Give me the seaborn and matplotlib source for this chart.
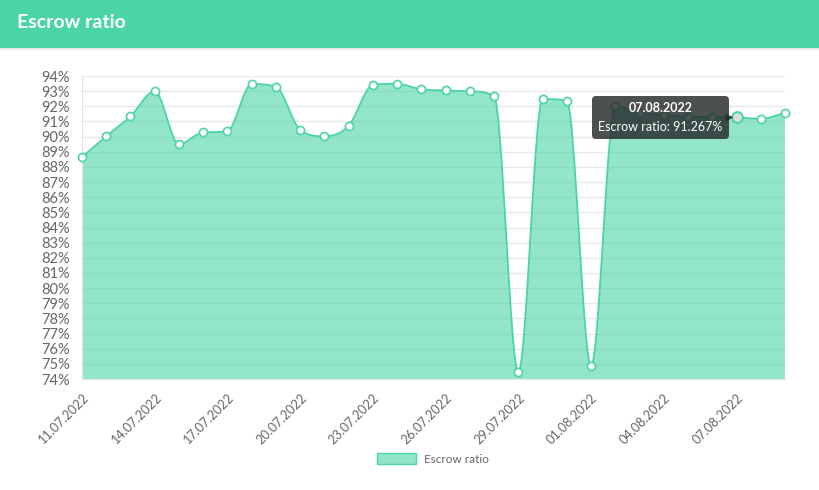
import matplotlib
matplotlib.use("Agg")
import matplotlib.pyplot as plt
import matplotlib.dates as mdates
import matplotlib.transforms as mtransforms
from matplotlib.path import Path
from matplotlib.patches import PathPatch, Patch, Rectangle
from matplotlib.lines import Line2D
from matplotlib.offsetbox import TextArea, VPacker, AnnotationBbox
import seaborn as sns
import pandas as pd
import numpy as np

# data
dates = pd.date_range("2022-07-11", "2022-08-09", freq="D")
escrow_ratio = [88.65, 90.02, 91.34, 92.99, 89.49, 90.28, 90.37, 93.47, 93.29, 90.44,
                90.02, 90.72, 93.41, 93.49, 93.12, 93.05, 92.99, 92.66, 74.44, 92.48,
                92.37, 74.88, 92.0, 91.56, 91.45, 91.3, 91.3, 91.267, 91.18, 91.56]
y_ticks = list(range(74, 95))
tooltip_date = "07.08.2022"
tooltip_label = "Escrow ratio: 91.267%"

df = pd.DataFrame({"date": dates, "ratio": escrow_ratio})

GREEN = "#4bd4a7"
FILL = (75 / 255, 212 / 255, 167 / 255, 0.6)
GREY = "#666666"
TIP = (0.15, 0.16, 0.17, 0.82)

sns.set_style("white")
plt.rcParams["font.family"] = ["Lato", "DejaVu Sans"]

fig = plt.figure(figsize=(8.2, 4.9), dpi=100)
ax = fig.add_axes([82 / 820, 1 - 379 / 490, 703 / 820, 303 / 490])

# header band
fig.patches.append(Rectangle((0, 1 - 48 / 490), 1, 48 / 490, transform=fig.transFigure,
                             facecolor=GREEN, edgecolor="none", zorder=0))
fig.add_artist(Line2D([0, 1], [1 - 49.5 / 490] * 2, transform=fig.transFigure,
                      color="#dfe7e4", lw=1.2))
fig.text(17 / 820, 1 - 22 / 490, "Escrow ratio", color="white", fontsize=14,
         fontweight="bold", va="center", ha="left")

# monotone cubic curve (same idea as chart.js cubicInterpolationMode 'monotone')
x = mdates.date2num(df["date"])
y = df["ratio"].to_numpy()
n = len(x)
delta = np.diff(y) / np.diff(x)
m = np.zeros(n)
m[0], m[-1] = delta[0], delta[-1]
for i in range(1, n - 1):
    if np.sign(delta[i - 1]) != np.sign(delta[i]):
        m[i] = 0
    else:
        m[i] = (delta[i - 1] + delta[i]) / 2
for i in range(n - 1):
    if abs(delta[i]) < 1e-9:
        m[i] = m[i + 1] = 0
        continue
    a, b = m[i] / delta[i], m[i + 1] / delta[i]
    sq = a * a + b * b
    if sq <= 9:
        continue
    tau = 3 / np.sqrt(sq)
    m[i] = a * tau * delta[i]
    m[i + 1] = b * tau * delta[i]

verts = [(x[0], y[0])]
codes = [Path.MOVETO]
for i in range(n - 1):
    dx = (x[i + 1] - x[i]) / 3
    c1 = (x[i] + dx, np.clip(y[i] + m[i] * dx, 74, 94))
    c2 = (x[i + 1] - dx, np.clip(y[i + 1] - m[i + 1] * dx, 74, 94))
    verts += [c1, c2, (x[i + 1], y[i + 1])]
    codes += [Path.CURVE4] * 3

line_path = Path(verts, codes)
fill_path = Path(verts + [(x[-1], 74), (x[0], 74), (x[0], y[0])],
                 codes + [Path.LINETO, Path.LINETO, Path.CLOSEPOLY])
ax.add_patch(PathPatch(fill_path, facecolor=FILL, edgecolor="none", zorder=2))
ax.add_patch(PathPatch(line_path, facecolor="none", edgecolor=GREEN, lw=1.3, zorder=3))

sns.scatterplot(data=df, x="date", y="ratio", ax=ax, s=34, color="white",
                edgecolor=GREEN, linewidth=1.2, zorder=4, clip_on=False)
hover = df[df["date"] == pd.Timestamp("2022-08-07")]
sns.scatterplot(data=hover, x="date", y="ratio", ax=ax, s=60, color="#dddddd",
                edgecolor=GREEN, linewidth=1.4, zorder=5, clip_on=False)

ax.set_xlim(x[0], x[-1])
ax.set_ylim(74, 94)
ax.set_yticks(y_ticks)
ax.set_yticklabels([f"{t}%" for t in y_ticks])
ax.set_xticks(x[::3])
ax.set_xticklabels([d.strftime("%d.%m.%Y") for d in dates[::3]], rotation=45,
                   ha="right", rotation_mode="anchor")
ax.set_xlabel("")
ax.set_ylabel("")
ax.yaxis.grid(True, color="#e8e8e8", lw=1)
ax.set_axisbelow(True)
ax.tick_params(axis="y", length=6, color="#e8e8e8", labelsize=10.5, labelcolor=GREY, pad=3)
ax.tick_params(axis="x", length=6, color="#e8e8e8", labelsize=9.2, labelcolor=GREY, pad=3)
for s in ["top", "right"]:
    ax.spines[s].set_visible(False)
ax.spines["left"].set_color("#e0e0e0")
ax.spines["bottom"].set_color("#e8e8e8")

# tooltip
hx, hy = hover["date"].iloc[0], hover["ratio"].iloc[0]
box = VPacker(children=[
    TextArea(tooltip_date, textprops=dict(color="white", fontsize=9, fontweight="bold")),
    TextArea(tooltip_label, textprops=dict(color="white", fontsize=9)),
], align="center", pad=0, sep=5)
ab = AnnotationBbox(box, (hx, hy),
                    xybox=(-10, 0), xycoords="data", boxcoords="offset points",
                    box_alignment=(1, 0.5), frameon=True, pad=0.45,
                    bboxprops=dict(boxstyle="round,pad=0.45,rounding_size=0.3",
                                   facecolor=TIP, edgecolor="none"),
                    zorder=10)
ax.add_artist(ab)
caret_tr = mtransforms.offset_copy(ax.transData, fig=fig, x=-5.5, y=0, units="points")
ax.plot([hx], [hy], marker=">", ms=6, color=TIP, mec="none", transform=caret_tr,
        zorder=10, clip_on=False)

# legend
handle = Patch(facecolor=FILL, edgecolor=GREEN, lw=1, label="Escrow ratio")
fig.legend(handles=[handle], loc="center", bbox_to_anchor=(433 / 820, 1 - 459 / 490),
           frameon=False, fontsize=8.5, labelcolor=GREY, handlelength=3.3,
           handleheight=1.0, handletextpad=0.6)

fig.savefig("out.png", dpi=100)
